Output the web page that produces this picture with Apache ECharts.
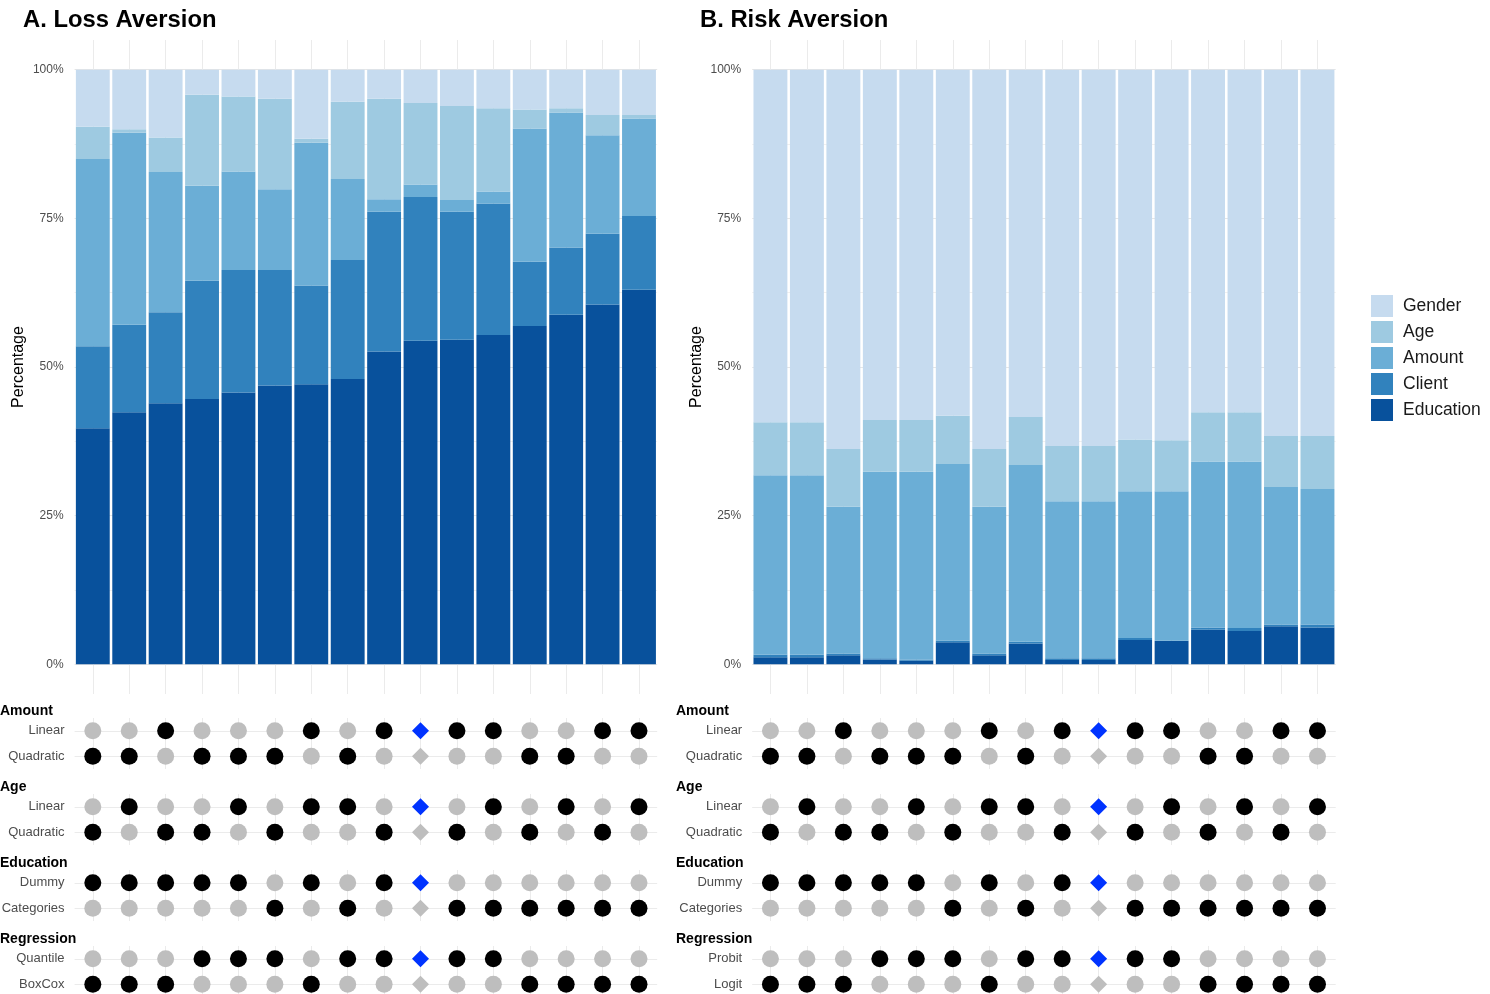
<!DOCTYPE html>
<html>
<head>
<meta charset="utf-8">
<script src="https://cdn.jsdelivr.net/npm/echarts@6/dist/echarts.min.js"></script>
<style>
    html, body {margin: 0; padding: 0; background: #fff;}
    #main {width: 1490px; height: 994px;}
</style>
</head>
<body>
<div id="main"></div>
<script>
// specifications 1..16 (x axis, hidden)
var specs = ['1','2','3','4','5','6','7','8','9','10','11','12','13','14','15','16'];
var layerNames = ['Education', 'Client', 'Amount', 'Age', 'Gender'];
var legendOrder = ['Gender', 'Age', 'Amount', 'Client', 'Education'];
var yTicks = [0, 25, 50, 75, 100];

// A. Loss Aversion - share of each layer (%)
var lossEducation = [39.7, 42.4, 43.9, 44.6, 45.7, 46.9, 47.1, 48.0, 52.6, 54.4, 54.6, 55.4, 56.9, 58.8, 60.5, 63.0];
var lossClient = [13.8, 14.7, 15.3, 19.9, 20.6, 19.4, 16.6, 20.0, 23.5, 24.2, 21.5, 22.1, 10.8, 11.3, 11.9, 12.4];
var lossAmount = [31.5, 32.3, 23.6, 16.0, 16.6, 13.6, 24.0, 13.6, 2.1, 2.1, 2.0, 2.0, 22.4, 22.7, 16.6, 16.4];
var lossAge = [5.4, 0.6, 5.8, 15.3, 12.6, 15.2, 0.7, 13.0, 16.9, 13.7, 15.8, 14.0, 3.2, 0.7, 3.4, 0.6];
var lossGender = [9.6, 10.0, 11.4, 4.2, 4.5, 4.9, 11.6, 5.4, 4.9, 5.6, 6.1, 6.5, 6.7, 6.5, 7.6, 7.6];

// B. Risk Aversion
var riskEducation = [1.2, 1.2, 1.5, 0.8, 0.6, 3.7, 1.5, 3.5, 0.7, 0.7, 4.1, 3.9, 5.8, 5.6, 6.4, 6.2];
var riskClient = [0.4, 0.4, 0.3, 0.2, 0.2, 0.3, 0.3, 0.3, 0.3, 0.3, 0.3, 0.1, 0.4, 0.5, 0.3, 0.5];
var riskAmount = [30.2, 30.2, 24.7, 31.4, 31.6, 29.7, 24.7, 29.7, 26.4, 26.4, 24.7, 25.1, 27.9, 28.0, 23.1, 22.8];
var riskAge = [8.9, 8.9, 9.7, 8.7, 8.7, 8.1, 9.7, 8.1, 9.3, 9.3, 8.7, 8.6, 8.3, 8.3, 8.6, 8.9];
var riskGender = [59.3, 59.3, 63.8, 58.9, 58.9, 58.2, 63.8, 58.4, 63.3, 63.3, 62.2, 62.3, 57.6, 57.6, 61.6, 61.6];

// specification matrix: 0 = not used, 1 = used, 2 = baseline (chosen), 3 = baseline (other)
var groupNames = ['Amount', 'Age', 'Education', 'Regression'];
var lossRowLabels = [['Linear', 'Quadratic'], ['Linear', 'Quadratic'], ['Dummy', 'Categories'], ['Quantile', 'BoxCox']];
var riskRowLabels = [['Linear', 'Quadratic'], ['Linear', 'Quadratic'], ['Dummy', 'Categories'], ['Probit', 'Logit']];
var amountLinear    = [0,0,1,0,0,0,1,0,1,2,1,1,0,0,1,1];
var amountQuadratic = [1,1,0,1,1,1,0,1,0,3,0,0,1,1,0,0];
var ageLinear       = [0,1,0,0,1,0,1,1,0,2,0,1,0,1,0,1];
var ageQuadratic    = [1,0,1,1,0,1,0,0,1,3,1,0,1,0,1,0];
var eduDummy        = [1,1,1,1,1,0,1,0,1,2,0,0,0,0,0,0];
var eduCategories   = [0,0,0,0,0,1,0,1,0,3,1,1,1,1,1,1];
var regFirst        = [0,0,0,1,1,1,0,1,1,2,1,1,0,0,0,0];
var regSecond       = [1,1,1,0,0,0,1,0,0,3,0,0,1,1,1,1];

var lossLayers = [lossEducation, lossClient, lossAmount, lossAge, lossGender];
var riskLayers = [riskEducation, riskClient, riskAmount, riskAge, riskGender];
var matrixRows = [[amountLinear, amountQuadratic], [ageLinear, ageQuadratic], [eduDummy, eduCategories], [regFirst, regSecond]];

var layerColors = {Education: '#08519c', Client: '#3182bd', Amount: '#6baed6', Age: '#9ecae1', Gender: '#c6dbef'};
var FONT = '"Liberation Sans", Arial, Helvetica, sans-serif';
var GRID_LINE = '#ebebeb';

var panels = [
    {title: 'A. Loss Aversion', titleX: 23, headerX: 0, left: 74.6, width: 582.6, layers: lossLayers, rows: lossRowLabels},
    {title: 'B. Risk Aversion', titleX: 700, headerX: 676, left: 752.2, width: 583.5, layers: riskLayers, rows: riskRowLabels}
];
var barTop = 40, barHeight = 654;
var dotTop = 718, dotStep = 76, dotHeight = 51;

var grids = [], xAxes = [], yAxes = [], series = [], titles = [];

// gridline colors cycle, ticks every 2.5 from -5: major at 0/25/.., minor at 12.5/37.5/..
var T = 'rgba(0,0,0,0)';
var ySplitColors = [T, T, '#e6e6e6', T, T, T, T, '#f0f0f0', T, T];

function hiddenCatX(gi) {
    return {
        type: 'category', gridIndex: gi, data: specs,
        axisLabel: {show: false, interval: 0}, axisTick: {show: false}, axisLine: {show: false},
        splitLine: {show: true, interval: 0, alignWithLabel: true, lineStyle: {color: GRID_LINE, width: 1}}
    };
}

panels.forEach(function (p, pi) {
    // stacked bar panel
    var gi = grids.length;
    grids.push({left: p.left, top: barTop, width: p.width, height: barHeight, outerBoundsMode: 'none'});
    xAxes.push(hiddenCatX(gi));
    yAxes.push({
        type: 'value', gridIndex: gi, min: -5, max: 105, interval: 2.5,
        name: 'Percentage', nameLocation: 'middle', nameGap: 48, nameRotate: 90,
        nameTextStyle: {fontSize: 16, color: '#000', fontFamily: FONT},
        axisLine: {show: false}, axisTick: {show: false},
        axisLabel: {
            margin: 11, fontSize: 12, color: '#4d4d4d', fontFamily: FONT, padding: [3, 0, 0, 0],
            formatter: function (v) { return yTicks.indexOf(v) >= 0 ? v + '%' : ''; }
        },
        splitLine: {show: true, lineStyle: {color: ySplitColors, width: 1}}
    });
    layerNames.forEach(function (name, li) {
        series.push({
            name: name, type: 'bar', stack: 'panel' + pi,
            xAxisIndex: gi, yAxisIndex: gi,
            barCategoryGap: '7%',
            itemStyle: {color: layerColors[name], opacity: 1},
            data: p.layers[li]
        });
    });
    titles.push({
        text: p.title, left: p.titleX, top: 8, padding: 0,
        textStyle: {fontSize: 23.8, fontWeight: 'bold', color: '#000', fontFamily: FONT}
    });

    // specification matrix, one small facet per group
    groupNames.forEach(function (g, k) {
        var dgi = grids.length;
        var top = dotTop + k * dotStep;
        grids.push({left: p.left, top: top, width: p.width, height: dotHeight, outerBoundsMode: 'none'});
        xAxes.push(hiddenCatX(dgi));
        yAxes.push({
            type: 'category', gridIndex: dgi, data: p.rows[k], inverse: true,
            axisLine: {show: false}, axisTick: {show: false},
            axisLabel: {interval: 0, margin: 10, fontSize: 13, color: '#4d4d4d', fontFamily: FONT, padding: [2, 0, 0, 0]},
            splitLine: {show: true, interval: 0, alignWithLabel: true, lineStyle: {color: GRID_LINE, width: 1}}
        });
        var pts = [];
        matrixRows[k].forEach(function (row, r) {
            row.forEach(function (v, c) {
                var item = {value: [c, r]};
                if (v === 2) {
                    item.symbol = 'diamond'; item.symbolSize = 17; item.itemStyle = {color: '#0033ff', opacity: 1};
                } else if (v === 3) {
                    item.symbol = 'diamond'; item.symbolSize = 17; item.itemStyle = {color: '#bebebe', opacity: 1};
                } else {
                    item.itemStyle = {color: v === 1 ? '#000000' : '#bebebe', opacity: 1};
                }
                pts.push(item);
            });
        });
        series.push({
            type: 'scatter', xAxisIndex: dgi, yAxisIndex: dgi,
            symbol: 'circle', symbolSize: 17, data: pts, z: 3,
            itemStyle: {opacity: 1}
        });
        titles.push({
            text: g, left: p.headerX, top: top - 14, padding: 0,
            textStyle: {fontSize: 14, fontWeight: 'bold', color: '#000', fontFamily: FONT}
        });
    });
});

var myChart = echarts.init(document.getElementById('main'));
var option = {
    backgroundColor: '#fff',
    animation: false,
    title: titles,
    legend: {
        data: legendOrder, orient: 'vertical', left: 1371, top: 295, padding: 0,
        icon: 'rect', itemWidth: 22, itemHeight: 22, itemGap: 4,
        textStyle: {fontSize: 17.5, color: '#1a1a1a', fontFamily: FONT, padding: [0, 0, 0, 5]}
    },
    grid: grids,
    xAxis: xAxes,
    yAxis: yAxes,
    series: series
};
myChart.setOption(option);
</script>
</body>
</html>
